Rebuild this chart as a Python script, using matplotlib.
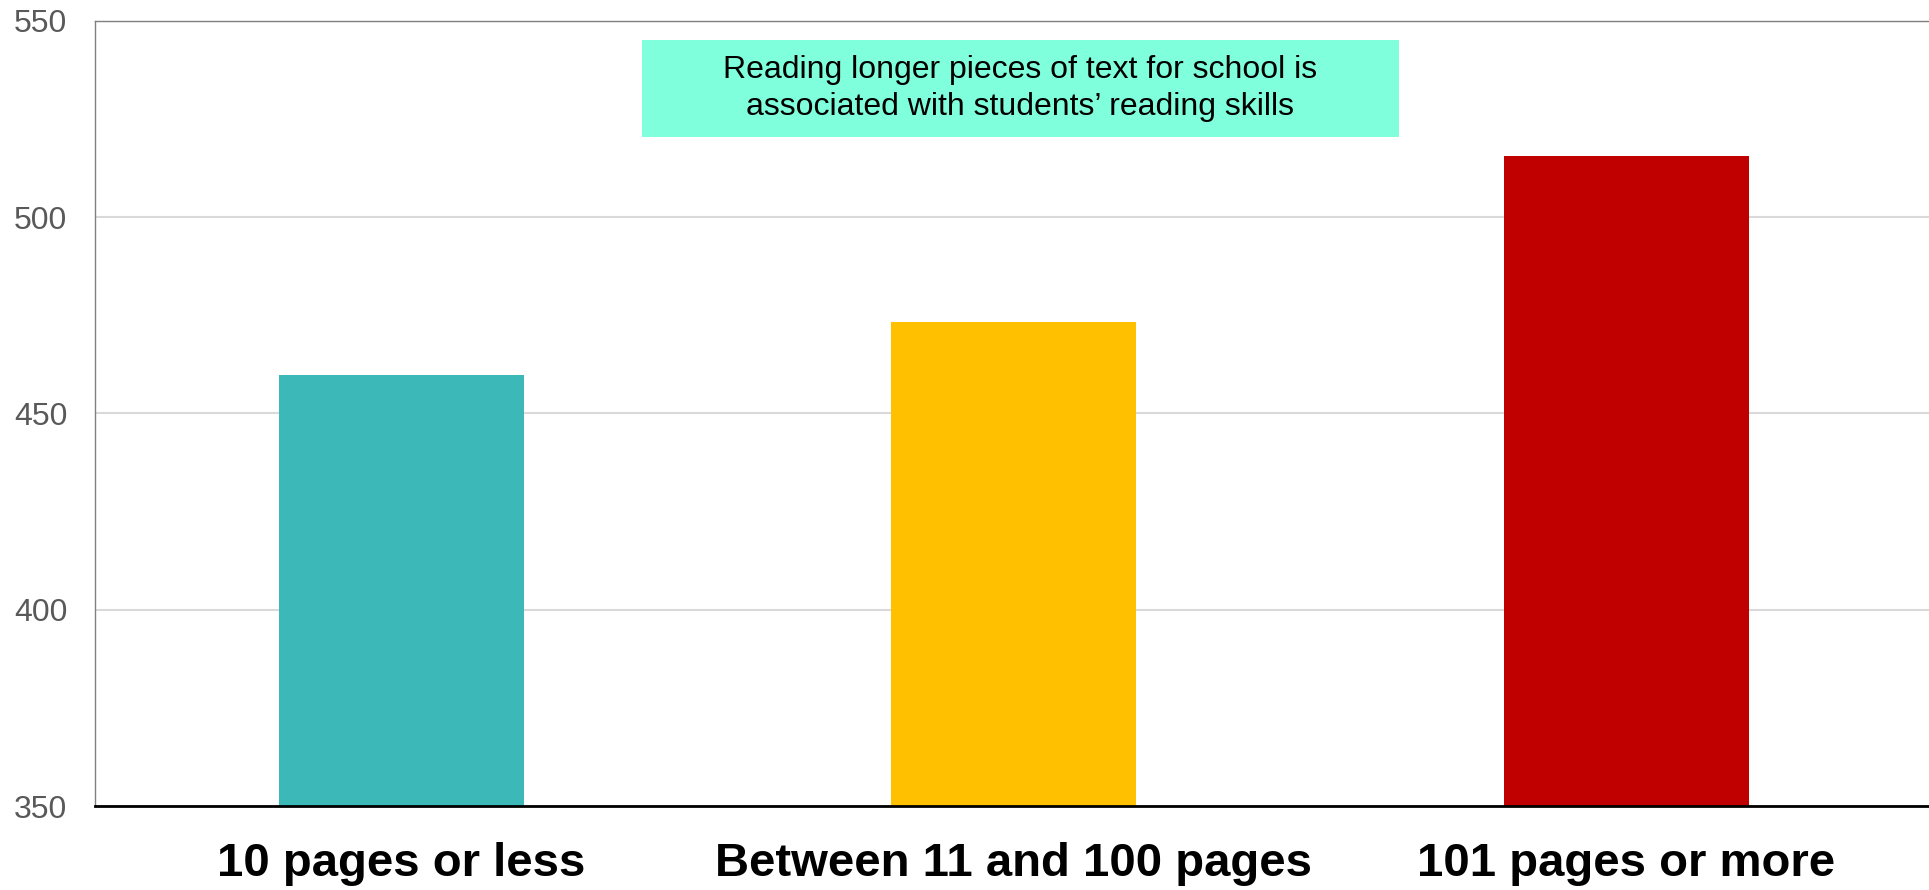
import matplotlib
matplotlib.use("Agg")
import matplotlib.pyplot as plt
from matplotlib.patches import Rectangle

# Mean reading score by length of the longest text read for school
categories = ["10 pages or less", "Between 11 and 100 pages", "101 pages or more"]
scores = [459.7, 473.4, 515.5]
bar_colors = ["#3DB8B8", "#FFC000", "#C00000"]
y_ticks = [350, 400, 450, 500, 550]
note = "Reading longer pieces of text for school is\nassociated with students\u2019 reading skills"

plt.rcParams["font.family"] = ["Liberation Sans", "DejaVu Sans"]

W, H = 1929, 890
fig = plt.figure(figsize=(W / 100, H / 100), dpi=100)
ax = fig.add_axes([95 / W, 1 - 806 / H, 1834 / W, 785 / H])

x = list(range(len(categories)))
ax.bar(x, scores, width=0.4, color=bar_colors, zorder=3)

ax.set_ylim(350, 550)
ax.set_xlim(-0.5, -0.5 + 1834 / 612.5)
ax.set_yticks(y_ticks)
ax.set_yticklabels([str(v) for v in y_ticks], fontsize=23, color="#595959")
ax.tick_params(axis="y", length=0, pad=20)
ax.set_xticks(x)
ax.set_xticklabels(categories, fontsize=34, fontweight="bold", color="black")
ax.tick_params(axis="x", length=0, pad=26)

ax.grid(axis="y", color="#D9D9D9", linewidth=1.5, zorder=0)
ax.set_axisbelow(True)

for side in ("left", "top"):
    ax.spines[side].set_color("#808080")
    ax.spines[side].set_linewidth(1.0)
ax.spines["right"].set_visible(False)
ax.spines["bottom"].set_color("black")
ax.spines["bottom"].set_linewidth(2.0)
ax.spines["bottom"].set_zorder(4)

# Annotation box with the key message
ax.add_patch(Rectangle((0.2983, 0.8522), 0.4127, 0.1236, transform=ax.transAxes,
                       facecolor="#7FFFDB", edgecolor="none", zorder=4))
ax.text(0.5044, 0.914, note, transform=ax.transAxes, ha="center", va="center",
        fontsize=23, color="black", linespacing=1.3, zorder=5)

fig.savefig("out.png", dpi=100)
